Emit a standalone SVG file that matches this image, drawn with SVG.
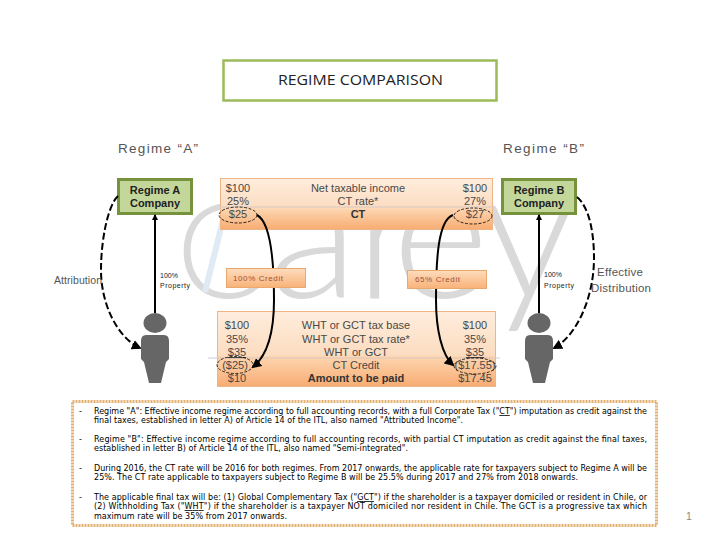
<svg xmlns="http://www.w3.org/2000/svg" width="720" height="540" viewBox="0 0 720 540">
<style>
text{font-family:"Liberation Sans",Arial,sans-serif}
.tb{font-size:11px;fill:#484848;text-anchor:middle}
.b{font-weight:bold;fill:#333}
.co{fill:#c4d79b;stroke:#76923c;stroke-width:3}
.cot{font-size:11px;font-weight:bold;fill:#222;text-anchor:middle}
.p{fill:#666}
.prop{font-size:7px;fill:#222}
.lab{fill:#555}
.cr{fill:url(#g2);stroke:#e8a870;stroke-width:1}
.crt{font-size:8px;fill:#a0523a}
.panel{stroke:#eeb586;stroke-width:1}
.n{font-family:"DejaVu Sans",sans-serif;font-size:8px;fill:#000}
.sol{fill:none;stroke:#000;stroke-width:2}
.das{fill:none;stroke:#000;stroke-width:2;stroke-dasharray:7 3}
.el{fill:none;stroke:#000;stroke-width:.8;stroke-dasharray:3 1.5}
</style>
<defs>
<linearGradient id="g1" x1="0" y1="0" x2="0" y2="1"><stop offset="0" stop-color="#ffeddd"/><stop offset=".58" stop-color="#fbdcc0"/><stop offset=".6" stop-color="#fdd5b0"/><stop offset="1" stop-color="#f7ac72"/></linearGradient>
<linearGradient id="g2" x1="0" y1="0" x2="0" y2="1"><stop offset="0" stop-color="#fddcbd"/><stop offset="1" stop-color="#f9b278"/></linearGradient>
<marker id="ah" markerWidth="5" markerHeight="5" refX="4" refY="2.500" orient="auto" markerUnits="strokeWidth"><path d="M0 0L5 2.500L0 5z" fill="#000"/></marker>
<marker id="ahs" markerWidth="3" markerHeight="3" refX="2.500" refY="1.500" orient="auto" markerUnits="strokeWidth"><path d="M0 0L3 1.500L0 3z" fill="#000"/></marker>
</defs>
<rect width="720" height="540" fill="#fff"/>
<g id="watermark">
<text y="298" style="font-family:Lato,sans-serif;font-weight:300" fill="#d9d9d9"><tspan x="176" font-size="132">C</tspan><tspan x="268" font-size="186">a</tspan><tspan x="355" font-size="186">r</tspan><tspan x="392" font-size="186">e</tspan><tspan x="482" font-size="186">y</tspan></text>
<path d="M228 200L205 292" stroke="#dfeaf5" stroke-width="6" fill="none"/>
<path d="M208 358H500" stroke="#ccd" stroke-width="1"/>
</g>
<g id="title"><rect x="223.500" y="60.500" width="273" height="40" fill="#fff" stroke="#9bbb59" stroke-width="2.500"/><text x="278" y="85" font-size="14" fill="#222" style="font-family:'Open Sans',sans-serif" textLength="165" lengthAdjust="spacingAndGlyphs">REGIME COMPARISON</text></g>
<text class="lab" x="118" y="153" font-size="13.500" textLength="80" lengthAdjust="spacing">Regime “A”</text>
<text class="lab" x="503" y="153" font-size="13.500" textLength="81" lengthAdjust="spacing">Regime “B”</text>
<g id="panel-top">
<rect class="panel" x="220.500" y="178.500" width="272" height="51" fill="url(#g1)"/>
<path d="M220 207H493" stroke="#d8c8c0" stroke-width="1"/>
<text class="tb" x="238" y="192">$100</text><text class="tb" x="238" y="205">25%</text><text class="tb" x="238" y="218">$25</text>
<text class="tb" x="358" y="192">Net taxable income</text><text class="tb" x="358" y="205">CT rate*</text><text class="tb b" x="358" y="218">CT</text>
<text class="tb" x="475" y="192">$100</text><text class="tb" x="475" y="205">27%</text><text class="tb" x="475" y="218">$27</text>
</g>
<g id="panel-bottom">
<rect class="panel" x="217.500" y="311.500" width="278" height="75" fill="url(#g1)"/>
<path d="M217 358H496" stroke="#d8c8c0" stroke-width="1"/>
<text class="tb" x="237" y="329">$100</text><text class="tb" x="237" y="343">35%</text><text class="tb" x="237" y="356" text-decoration="underline">$35</text><text class="tb" x="235" y="369">($25)</text><text class="tb" x="237" y="382">$10</text>
<text class="tb" x="356" y="329">WHT or GCT tax base</text><text class="tb" x="356" y="343">WHT or GCT tax rate*</text><text class="tb" x="356" y="356">WHT or GCT</text><text class="tb" x="356" y="369">CT Credit</text><text class="tb b" x="356" y="382">Amount to be paid</text>
<text class="tb" x="475" y="329">$100</text><text class="tb" x="475" y="343">35%</text><text class="tb" x="475" y="356" text-decoration="underline">$35</text><text class="tb" x="475" y="369">($17.55)</text><text class="tb" x="475" y="382">$17.45</text>
</g>
<g id="company-a"><rect class="co" x="118.500" y="179.500" width="73" height="34"/><text class="cot" x="155" y="194">Regime A</text><text class="cot" x="155" y="207">Company</text></g>
<g id="company-b"><rect class="co" x="502.500" y="179.500" width="73" height="34"/><text class="cot" x="539" y="194">Regime B</text><text class="cot" x="539" y="207">Company</text></g>
<g id="connectors">
<path class="sol" d="M155 313V215" marker-end="url(#ahs)"/>
<path class="sol" d="M539 313V215" marker-end="url(#ahs)"/>
<path class="das" d="M118 196C108 205 101 240 101 270C101 305 118 338 140 348" marker-end="url(#ah)"/>
<path class="das" d="M577 197C590 208 594 235 594 258C594 300 575 337 554 348" marker-end="url(#ah)"/>
<path class="sol" d="M257 215C270 222 274 260 274 300C274 330 268 355 253 367" marker-end="url(#ah)"/>
<path class="sol" d="M453 215C438 220 436 260 436 300C436 330 442 355 453 365" marker-end="url(#ah)"/>
<ellipse class="el" cx="238" cy="215" rx="19" ry="8"/>
<ellipse class="el" cx="235" cy="365" rx="18" ry="8.500"/>
<ellipse class="el" cx="473" cy="216" rx="19" ry="8"/>
<ellipse class="el" cx="475" cy="366" rx="21" ry="8"/>
</g>
<g id="credit-a"><rect class="cr" x="226.500" y="268.500" width="79" height="19"/><text class="crt" x="233" y="281" textLength="50">100% Credit</text></g>
<g id="credit-b"><rect class="cr" x="407.500" y="270.500" width="79" height="18"/><text class="crt" x="415" y="282" textLength="45">65% Credit</text></g>
<g id="person-a"><ellipse class="p" cx="155" cy="323" rx="11.500" ry="10"/><path class="p" d="M146 335H164Q169 335 169 341V359L166 362L161 383H149L144 362L141 359V341Q141 335 146 335Z"/></g>
<g id="person-b"><ellipse class="p" cx="539" cy="323" rx="11.500" ry="10"/><path class="p" d="M530 335H548Q553 335 553 341V359L550 362L545 383H533L528 362L525 359V341Q525 335 530 335Z"/></g>
<text class="prop" x="160" y="278">100%</text><text class="prop" x="160" y="288" textLength="30">Property</text>
<text class="prop" x="544" y="277">100%</text><text class="prop" x="544" y="288" textLength="30">Property</text>
<text class="lab" x="54" y="284" font-size="10.500" textLength="48">Attribution</text>
<text class="lab" x="597" y="276" font-size="11.500" textLength="46">Effective</text>
<text class="lab" x="591" y="292" font-size="11.500" textLength="60">Distribution</text>
<g id="notes">
<rect x="72.500" y="401.500" width="584" height="124" fill="#fff" stroke="#e3b070" stroke-width="3" stroke-dasharray="2 1"/>
<text class="n" x="79" y="414">-</text><text class="n" x="79" y="442">-</text><text class="n" x="79" y="471">-</text><text class="n" x="79" y="500">-</text>
<text class="n" x="94" y="414" textLength="553">Regime "A": Effective income regime according to full accounting records, with a full Corporate Tax ("<tspan text-decoration="underline">CT</tspan>") imputation as credit against the</text>
<text class="n" x="94" y="423" textLength="369">final taxes, established in letter A) of Article 14 of the ITL, also named "Attributed Income".</text>
<text class="n" x="94" y="442" textLength="553">Regime "B": Effective income regime according to full accounting records, with partial CT imputation as credit against the final taxes,</text>
<text class="n" x="94" y="451" textLength="314">established in letter B) of Article 14 of the ITL, also named "Semi-integrated".</text>
<text class="n" x="94" y="471" textLength="553">During 2016, the CT rate will be 2016 for both regimes. From 2017 onwards, the applicable rate for taxpayers subject to Regime A will be</text>
<text class="n" x="94" y="480" textLength="484">25%. The CT rate applicable to taxpayers subject to Regime B will be 25.5% during 2017 and 27% from 2018 onwards.</text>
<text class="n" x="94" y="500" textLength="553">The applicable final tax will be: (1) Global Complementary Tax ("<tspan text-decoration="underline">GCT</tspan>") if the shareholder is a taxpayer domiciled or resident in Chile, or</text>
<text class="n" x="94" y="509" textLength="553">(2) Withholding Tax ("<tspan text-decoration="underline">WHT</tspan>") if the shareholder is a taxpayer NOT domiciled nor resident in Chile. The GCT is a progressive tax which</text>
<text class="n" x="94" y="519" textLength="193">maximum rate will be 35% from 2017 onwards.</text>
</g>
<text x="689" y="520" font-size="10.500" fill="#888" text-anchor="middle">1</text>
</svg>
